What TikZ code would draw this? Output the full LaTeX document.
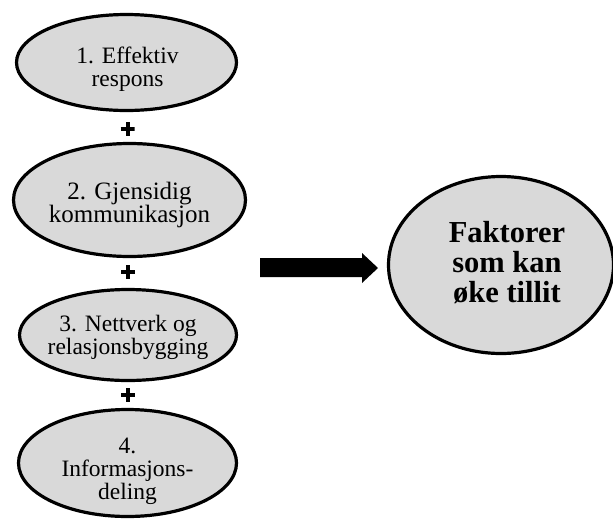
\documentclass[tikz,border=0pt]{standalone}
\usepackage{fontspec}
\setmainfont{Liberation Serif}
\usetikzlibrary{shapes.geometric}
\begin{document}
\begin{tikzpicture}[x=1pt,y=-1pt,
  factor/.style={ellipse, draw=black, line width=3.2pt, fill=gray!30,
    inner sep=0pt},
  itemtext/.style={align=center, inner sep=0pt,
    font=\fontsize{23.5}{23}\selectfont},
  goaltext/.style={align=center, inner sep=0pt,
    font=\fontsize{30.5}{30}\selectfont\bfseries},
  plussign/.style={minimum size=14pt, inner sep=0pt,
    path picture={\draw[line width=4pt]
      (path picture bounding box.north) -- (path picture bounding box.south)
      (path picture bounding box.west) -- (path picture bounding box.east);}}]
  \useasboundingbox (0,0) rectangle (613,520);

  % the four contributing factors
  \node[factor, minimum width=220pt, minimum height=96pt] (f1) at (126.5,62.5) {};
  \node[factor, minimum width=232pt, minimum height=113pt] (f2) at (129.5,200) {};
  \node[factor, minimum width=217pt, minimum height=91pt] (f3) at (128,335) {};
  \node[factor, minimum width=218pt, minimum height=107pt] (f4) at (127.5,463) {};

  \node[itemtext] (t1) at (127.5,69.5) {1. Effektiv\\respons};
  \node[itemtext, font=\fontsize{25}{23}\selectfont] (t2) at (129.5,204.5)
    {2. Gjensidig\\kommunikasjon};
  \node[itemtext] (t3) at (128,337.5) {3. Nettverk og\\relasjonsbygging};
  \node[itemtext] (t4) at (127.5,471.5) {4.\\Informasjons-\\deling};

  % plus signs between the factors
  \node[plussign] (p1) at (127.5,129) {};
  \node[plussign] (p2) at (128,272) {};
  \node[plussign] (p3) at (128,395) {};

  % the result
  \node[factor, minimum width=225pt, minimum height=177pt] (goal) at (501,265) {};
  \node[goaltext] (gt) at (507,262.6) {Faktorer\\som kan\\øke tillit};

  % block arrow pointing towards the result
  \fill (260,258) -- (362,258) -- (362,253) -- (378,268) -- (362,283)
    -- (362,277) -- (260,277) -- cycle;
\end{tikzpicture}
\end{document}
